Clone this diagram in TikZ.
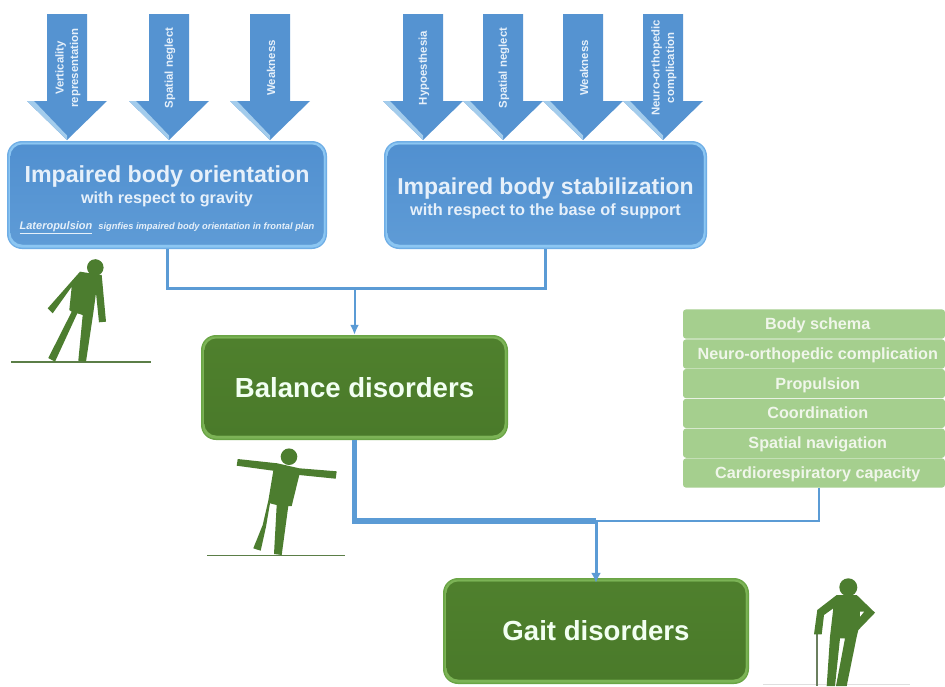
\documentclass[tikz,border=0pt]{standalone}
\usepackage{fontspec}
\usetikzlibrary{arrows.meta}
\setmainfont{Liberation Sans}
\definecolor{bluemain}{HTML}{5593D1}
\definecolor{bluetop}{HTML}{5190D0}
\definecolor{bluebot}{HTML}{5E9BD6}
\definecolor{blueedge}{HTML}{6FAEE6}
\definecolor{bluemid}{HTML}{8CC6F2}
\definecolor{bluebevel}{HTML}{A3CCEC}
\definecolor{bluetext}{HTML}{E6F0FA}
\definecolor{greenmain}{HTML}{4F802D}
\definecolor{greenedge}{HTML}{6AA545}
\definecolor{greenmid}{HTML}{7CB356}
\definecolor{greendark}{HTML}{4A7A2A}
\definecolor{figgreen}{HTML}{4C7D2F}
\definecolor{listgreen}{HTML}{A5CF8E}
\definecolor{listtext}{HTML}{F0F6EA}
\definecolor{lineblue}{HTML}{5B9BD5}
\tikzset{
  x=1pt,y=-1pt,
  softbox/.style n args={4}{rounded corners=15pt,fill=#1,draw=none,align=center,text=white,font=\bfseries,inner sep=0pt,
    path picture={
      \fill[#2,rounded corners=13pt]
        ([shift={(1.5,1.5)}]path picture bounding box.north west) rectangle ([shift={(-1.5,-1.5)}]path picture bounding box.south east);
      \fill[rounded corners=12pt,top color=#3,bottom color=#4]
        ([shift={(3.5,3.5)}]path picture bounding box.north west) rectangle ([shift={(-3.5,-4.5)}]path picture bounding box.south east);}},
  bluebox/.style={softbox={blueedge}{bluemid}{bluetop}{bluebot},text=bluetext,minimum width=320pt,minimum height=108pt},
  greenbox/.style={softbox={greenedge}{greenmid}{greenmain}{greendark},minimum width=307pt,minimum height=105pt,font=\bfseries\fontsize{27.6}{30}\selectfont,text=white!95!green},
  arrowbody/.style={fill=bluemain,draw=none},
  arrowbevel/.style={fill=bluebevel,draw=none},
  arrowtext/.style={rotate=90,align=center,text=bluetext,font=\bfseries\fontsize{11.4}{14.5}\selectfont,inner sep=0pt},
  listrow/.style={fill=listgreen,rounded corners=3pt,minimum width=262pt,minimum height=29.2pt,inner sep=0pt,text height=14pt,text depth=3pt,text=listtext,font=\bfseries\fontsize{16.2}{18}\selectfont,execute at begin node={\hspace*{7.5pt}}},
  thinlink/.style={draw=lineblue,line width=1.5pt},
  midlink/.style={draw=lineblue,line width=3pt},
  thicklink/.style={draw=lineblue,line width=5.5pt},
  figure/.style={fill=figgreen,draw=none},
  groundline/.style={draw=#1,line width=1.6pt},
}
\newcommand{\blockarrow}[4]{% tip x, half head width, node name, label
  \fill[arrowbody] (#1-20,14) -- (#1+20,14) -- (#1+20,101) -- (#1+#2,101) -- (#1,140) -- (#1-#2,101) -- (#1-20,101) -- cycle;
  \fill[arrowbevel] (#1-#2,101) -- (#1,140) -- (#1,135.5) -- (#1-#2+7,101) -- cycle;
  \node[arrowtext] (#3) at (#1+1,68) {#4};
}
\begin{document}
\begin{tikzpicture}
\useasboundingbox[fill=white] (0,0) rectangle (945,686);
% block arrows
\blockarrow{67}{40}{a1}{Verticality\\representation}
\blockarrow{169}{40}{a2}{Spatial neglect}
\blockarrow{270}{40}{a3}{Weakness}
\blockarrow{423}{40}{b1}{Hypoesthesia}
\blockarrow{503}{40}{b2}{Spatial neglect}
\blockarrow{583}{40}{b3}{Weakness}
\blockarrow{663}{40}{b4}{Neuro-orthopedic\\complication}
% boxes
\node[bluebox] (bo) at (167,195) {\rule{0pt}{27pt}{\fontsize{23.2}{26}\selectfont Impaired body orientation}\\[3.5pt]
 {\fontsize{16.2}{19}\selectfont with respect to gravity}\\[14pt]
 {\itshape\fontsize{11}{13}\selectfont\underline{Lateropulsion}\hspace{6pt}\fontsize{9.3}{13}\selectfont signfies impaired body orientation in frontal plan}};
\node[bluebox,minimum width=323pt] (bs) at (545.5,195) {\rule{0pt}{23pt}{\fontsize{23}{26}\selectfont Impaired body stabilization}\\[3.5pt]
 {\fontsize{16.3}{19}\selectfont with respect to the base of support}};
\node[greenbox] (bal) at (354.5,387.5) {Balance disorders};
\node[greenbox,minimum width=306pt,minimum height=106pt] (gait) at (596,631) {Gait disorders};
% list
\node[listrow] (r1) at (814,324) {Body schema};
\node[listrow] (r2) at (814,354) {Neuro-orthopedic complication};
\node[listrow] (r3) at (814,383.6) {Propulsion};
\node[listrow] (r4) at (814,413.4) {Coordination};
\node[listrow] (r5) at (814,443.2) {Spatial navigation};
\node[listrow] (r6) at (814,473) {Cardiorespiratory capacity};
% connectors
\coordinate (jt) at (354.5,288);
\coordinate (jg) at (596,521);
\coordinate (rb) at (819,487.6);
\draw[midlink] (bo.south) |- (jt) -| (bs.south);
\draw[midlink,line width=2pt,-{Latex[length=10pt,width=9pt]}] (jt) -- (bal.north);
\draw[thinlink] (rb) |- (jg);
\draw[thicklink] (bal.south) |- (jg);
\draw[midlink,-{Latex[length=10pt,width=10pt]}] (jg) -- ([yshift=-5pt]gait.north);
% figure 1
\draw[groundline=figgreen!70!gray] (11,362) -- (151,362);
\fill[figure] (95.3,267.5) circle (8.3);
\fill[figure] (80,271.7) -- (101.7,275) -- (106,321.7) -- (99,322.3) -- (96,293) -- (93.3,313) -- (86,361.7) -- (78.3,360.7) -- (82.7,315) -- (77.3,313.3) -- (55,361.7) -- (48.3,358) -- (71.7,311.7) -- (69.3,310) -- (71.7,286.7) -- (52.7,313.3) -- (47.7,308.3) -- cycle;
% figure 2
\draw[groundline=figgreen!70!gray] (207,555.5) -- (345,555.5);
\fill[figure] (289,456.7) circle (8.3);
\fill[figure] (237.7,459) -- (277.3,463.3) -- (299.3,468.3) -- (336.7,471.3) -- (335.7,478.7) -- (299.3,475) -- (291.7,506) -- (288.3,506) -- (281.7,555) -- (274,554) -- (276.7,505) -- (270,503.3) -- (266,526.7) -- (260.7,550.7) -- (253.3,548.3) -- (262.7,525) -- (268.3,500.7) -- (273.3,470.7) -- (236.7,465.7) -- cycle;
% figure 3
\draw[groundline=gray!25,line width=1pt] (763,684.8) -- (910,684.8);
\draw[draw=gray!60!figgreen,line width=2pt] (816.7,634) -- (816.7,686);
\fill[figure] (848.3,587.3) circle (9);
\fill[figure] (836.7,595) -- (856.7,595) -- (875,612.7) -- (858.3,630) -- (856.7,636.7) -- (846.7,686) -- (836,686) -- (845,638.3) -- (840,638.3) -- (835,686) -- (826.7,686) -- (830,636.7) -- (833.3,608.3) -- (824,615) -- (821.7,634.3) -- (814,634.3) -- (817.3,610) -- cycle;
\fill[white] (860,611.7) -- (864,611.7) -- (860,616.7) -- cycle;
\end{tikzpicture}
\end{document}
